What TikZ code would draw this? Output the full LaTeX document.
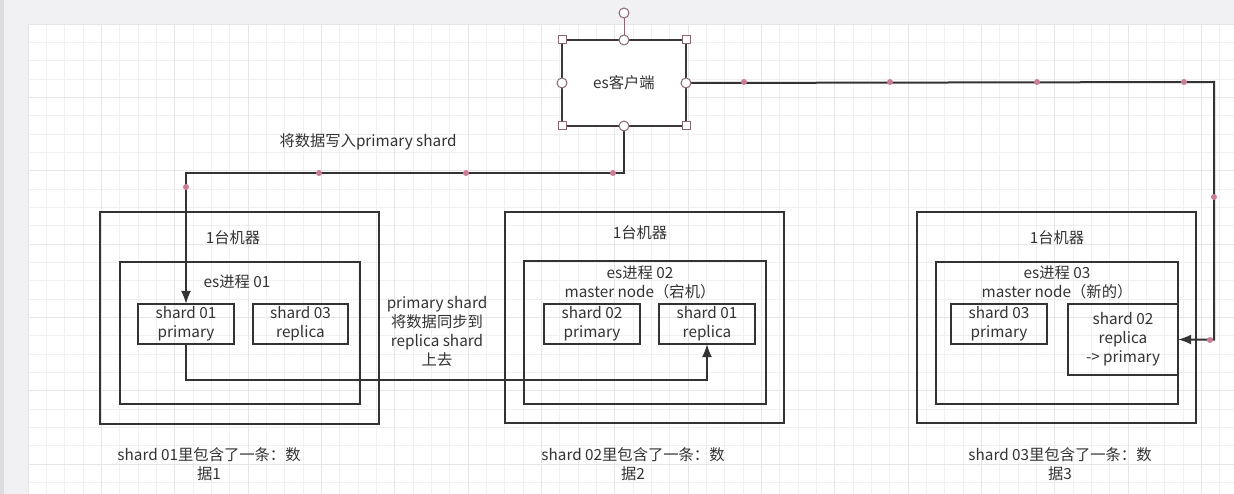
\documentclass[tikz,border=0pt]{standalone}
\usepackage{fontspec}
\setmainfont{Noto Sans CJK SC}
\usepackage{tikz}
\usepackage{xcolor}
\usetikzlibrary{arrows.meta}
\usetikzlibrary{positioning}

\definecolor{ink}{HTML}{333333}
\definecolor{gridminor}{HTML}{F0F0F0}
\definecolor{gridmajor}{HTML}{E6E6E6}
\definecolor{dotc}{HTML}{C97D97}
\definecolor{handlec}{HTML}{8A6670}
\definecolor{panel}{HTML}{F1F1F3}
\definecolor{strip}{HTML}{DCDCDE}

\begin{document}
\begin{tikzpicture}[x=1pt, y=-1pt, >={Latex[length=13pt,width=10pt]},
  txt/.style={text=ink, font=\fontsize{15.3}{19}\selectfont, align=center, inner sep=0pt},
  box/.style={draw=ink, line width=1.8pt, inner sep=0pt, outer sep=0pt},
  shardbox/.style={box, txt, minimum width=96pt, minimum height=40pt},
  wire/.style={draw=ink, line width=2pt},
  handsq/.style={draw=handlec, fill=white, line width=1pt, minimum size=8pt, inner sep=0pt},
  handci/.style={draw=handlec, fill=white, line width=1pt, circle, minimum size=10pt, inner sep=0pt}]
\useasboundingbox (0,0) rectangle (1234,494);
%Background
\fill[panel] (0,0) rectangle (1234,494);
\fill[strip] (0,0) rectangle (4,494);
\fill[white] (28,24) rectangle (1234,494);
\begin{scope}
  \clip (28,24) rectangle (1234,494);
  \foreach \i in {0,1,...,66} {
    \draw[gridminor, line width=0.8pt] ({28+\i*18.333},24) -- +(0,470);
  }
  \foreach \j in {0,1,...,25} {
    \draw[gridminor, line width=0.8pt] (28,{24+\j*18.333}) -- +(1206,0);
  }
  \foreach \i in {0,4,...,64} {
    \draw[gridmajor, line width=0.8pt] ({28+\i*18.333},24) -- +(0,470);
  }
  \foreach \j in {0,4,...,24} {
    \draw[gridmajor, line width=0.8pt] (28,{24+\j*18.333}) -- +(1206,0);
  }
\end{scope}

%Machine 1
\node[box, minimum width=279pt, minimum height=212pt] (m1) at (239.5,318) {};
\node[txt] (m1t) at (233,238) {1台机器};
\node[box, minimum width=240pt, minimum height=142pt] (es1) at (240,333) {};
\node[txt] (es1t) at (237,282) {es进程 01};
\node[shardbox] (s01p) at (186,324) {shard 01\\primary};
\node[shardbox, minimum width=95pt] (s03r) at (300.5,324) {shard 03\\replica};

%Machine 2
\node[box, minimum width=279pt, minimum height=211pt] (m2) at (644.5,317.5) {};
\node[txt] (m2t) at (640,233) {1台机器};
\node[box, minimum width=242pt, minimum height=143pt] (es2) at (645,332.5) {};
\node[txt] (es2t) at (640,282) {es进程 02\\master node（宕机）};
\node[shardbox] (s02p) at (592,324) {shard 02\\primary};
\node[shardbox] (s01r) at (707,324) {shard 01\\replica};

%Machine 3
\node[box, minimum width=279pt, minimum height=211pt] (m3) at (1056.5,317.5) {};
\node[txt] (m3t) at (1057,238) {1台机器};
\node[box, minimum width=242pt, minimum height=142pt] (es3) at (1057,333) {};
\node[txt] (es3t) at (1057,282) {es进程 03\\master node（新的）};
\node[shardbox] (s03p) at (999,324) {shard 03\\primary};
\node[shardbox, minimum width=110pt, minimum height=71pt] (s02r) at (1123,339.5) {shard 02\\replica\\-> primary};

%Client
\node[box, fill=white, draw=ink!90!handlec, line width=2.2pt, minimum width=124pt, minimum height=86pt, txt] (client) at (624,83) {es客户端};

%Wires
\draw[wire, ->] (client.south) -- ++(0,47) -| (s01p.north);
\coordinate (bend) at (1214,82);
\draw[wire, ->] (client.east) -- (bend) |- (s02r.east);
\draw[wire, ->] (s01p.south) -- ++(0,36) -| (s01r.south);
\foreach \p in {(319,173),(466,173),(613,173),(186,187),(744,82),(890,82),(1037,82),(1184,82),(1214,197),(1210,340)} {
  \fill[dotc] \p circle (3);
}
\node[txt] (writet) at (368,142) {将数据写入primary shard};
\node[txt] (synct) at (437,331) {primary shard\\将数据同步到\\replica shard\\上去};

%Handles
\node[handci] (rot) at (624,13) {};
\draw[handlec, line width=1pt] (rot) -- (client.north);
\foreach \c in {north west, north east, south west, south east} {
  \node[handsq] at (client.\c) {};
}
\foreach \c in {north, south, east, west} {
  \node[handci] at (client.\c) {};
}

%Notes
\node[txt] (n1) at (209,464) {shard 01里包含了一条：数\\据1};
\node[txt] (n2) at (633,464) {shard 02里包含了一条：数\\据2};
\node[txt] (n3) at (1060,464) {shard 03里包含了一条：数\\据3};
\end{tikzpicture}
\end{document}
